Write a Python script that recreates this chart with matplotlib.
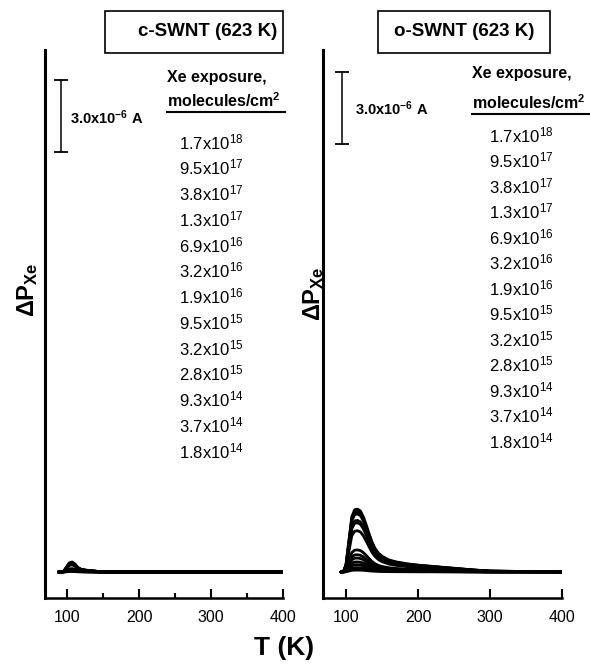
import matplotlib
matplotlib.use('Agg')
import matplotlib.pyplot as plt
import numpy as np
from matplotlib.patches import Rectangle
from matplotlib.lines import Line2D

plt.rcParams['font.family'] = ['Liberation Sans', 'DejaVu Sans']
plt.rcParams['mathtext.fontset'] = 'custom'
plt.rcParams['mathtext.rm'] = 'Liberation Sans'
plt.rcParams['mathtext.bf'] = 'Liberation Sans:bold'
plt.rcParams['mathtext.it'] = 'Liberation Sans:italic'

# ---------------- data ----------------
exposure_labels = ['1.7x10$^{18}$', '9.5x10$^{17}$', '3.8x10$^{17}$', '1.3x10$^{17}$',
                   '6.9x10$^{16}$', '3.2x10$^{16}$', '1.9x10$^{16}$', '9.5x10$^{15}$',
                   '3.2x10$^{15}$', '2.8x10$^{15}$', '9.3x10$^{14}$', '3.7x10$^{14}$',
                   '1.8x10$^{14}$']

# c-SWNT: desorption profile (normalised) and peak heights (units of 1e-6 A)
c_T = [88, 95, 99, 103, 107, 111, 115, 120, 130, 140, 150, 200, 300, 400]
c_shape = [0.0, 0.05, 0.45, 0.90, 1.0, 0.80, 0.45, 0.25, 0.15, 0.08, 0.0, 0.0, 0.0, 0.0]
c_peak = [0.42, 0.40, 0.38, 0.36, 0.34, 0.30, 0.14, 0.12, 0.10, 0.08, 0.06, 0.04, 0.02]

# o-SWNT
o_T = [93, 97, 100, 104, 108, 112, 116, 120, 124, 128, 132, 136, 140, 145, 150,
       160, 170, 185, 200, 225, 250, 275, 300, 350, 400]
o_shape = [0.0, 0.02, 0.12, 0.50, 0.88, 0.99, 1.0, 0.97, 0.88, 0.75, 0.61, 0.48, 0.38,
           0.30, 0.25, 0.19, 0.16, 0.13, 0.11, 0.085, 0.06, 0.035, 0.015, 0.008, 0.005]
o_peak = [2.62, 2.52, 2.42, 2.15, 2.05, 1.72, 0.92, 0.72, 0.58, 0.42, 0.30, 0.18, 0.08]

major_ticks = [100, 200, 300, 400]
minor_ticks_c = [150, 250, 350]
scale_bar = 3.0  # 3.0x10^-6 A

# ---------------- figure ----------------
W, H = 590, 667
fig = plt.figure(figsize=(W / 100, H / 100), dpi=100)


def fx(x):
    return x / W


def fy(y):
    return 1 - y / H


ylim = (-1.083, 21.75)


def make_axes(x0, x1, xlim):
    ax = fig.add_axes([fx(x0), fy(598), fx(x1) - fx(x0), fy(50) - fy(598)])
    ax.set_xlim(*xlim)
    ax.set_ylim(*ylim)
    for s in ('top', 'right'):
        ax.spines[s].set_visible(False)
    ax.spines['left'].set_linewidth(2.2)
    ax.spines['bottom'].set_linewidth(1.8)
    ax.set_yticks([])
    ax.set_xticks(major_ticks)
    ax.set_xticklabels([str(t) for t in major_ticks])
    ax.tick_params(axis='x', which='major', direction='in', length=6.5, width=1.5,
                   labelsize=11.5, pad=9)
    ax.tick_params(axis='x', which='minor', direction='in', length=3.5, width=1.5)
    ax.patch.set_alpha(0)
    return ax


axL = make_axes(45, 283, (69.4, 400))
axL.set_xticks(minor_ticks_c, minor=True)
axR = make_axes(323, 562, (68, 400))

for amp in c_peak:
    axL.plot(c_T, amp * np.array(c_shape), color='black', lw=2.0,
             solid_joinstyle='round', solid_capstyle='round')
for amp in o_peak:
    axR.plot(o_T, amp * np.array(o_shape), color='black', lw=2.0,
             solid_joinstyle='round', solid_capstyle='round')

# scale bars
for ax, xs, y0 in ((axL, 91.6, 17.5), (axR, 94.4, 17.83)):
    ax.plot([xs, xs], [y0, y0 + scale_bar], color='black', lw=1.1)
    ax.plot([xs, xs], [y0, y0 + scale_bar], ls='none', marker='_', ms=10,
            mew=1.3, color='black')

fig.text(fx(70), fy(124), r'3.0x10$^{\mathbf{-6}}$ A', fontweight='bold',
         fontsize=10.5, va='baseline')
fig.text(fx(355), fy(115), r'3.0x10$^{\mathbf{-6}}$ A', fontweight='bold',
         fontsize=10.5, va='baseline')

# title boxes
fig.add_artist(Rectangle((fx(105), fy(53)), fx(283) - fx(105), fy(11) - fy(53),
                         transform=fig.transFigure, fill=False, lw=1.2, ec='black'))
fig.text(fx(277), fy(31), 'c-SWNT (623 K)', ha='right', va='center',
         fontweight='bold', fontsize=13.5)
fig.add_artist(Rectangle((fx(378), fy(53)), fx(550) - fx(378), fy(11) - fy(53),
                         transform=fig.transFigure, fill=False, lw=1.2, ec='black'))
fig.text(fx(464), fy(31), 'o-SWNT (623 K)', ha='center', va='center',
         fontweight='bold', fontsize=13.5)

# legend headers
for x, yb1, yb2, yu, xe in ((167, 82, 107, 112, 285), (472, 78, 109, 114, 589)):
    fig.text(fx(x), fy(yb1), 'Xe exposure,', fontweight='bold', fontsize=11.5,
             va='baseline')
    fig.text(fx(x), fy(yb2), r'molecules/cm$^{\mathbf{2}}$', fontweight='bold',
             fontsize=11.5, va='baseline')
    fig.add_artist(Line2D([fx(x), fx(xe)], [fy(yu), fy(yu)], lw=1.5, color='black',
                          transform=fig.transFigure))

# exposure lists
for i, lab in enumerate(exposure_labels):
    fig.text(fx(179), fy(149 + 25.75 * i), lab, fontsize=12, va='baseline')
    fig.text(fx(489), fy(142 + 25.5 * i), lab, fontsize=12, va='baseline')

# axis labels
fig.text(fx(28), fy(290), r'ΔP$_{\mathbf{Xe}}$', rotation=90, fontweight='bold',
         fontsize=17, ha='center', va='center')
fig.text(fx(314), fy(294), r'ΔP$_{\mathbf{Xe}}$', rotation=90, fontweight='bold',
         fontsize=17, ha='center', va='center')
fig.text(fx(284), fy(648), 'T (K)', fontweight='bold', fontsize=19,
         ha='center', va='center')

fig.savefig('out.png', dpi=100)
